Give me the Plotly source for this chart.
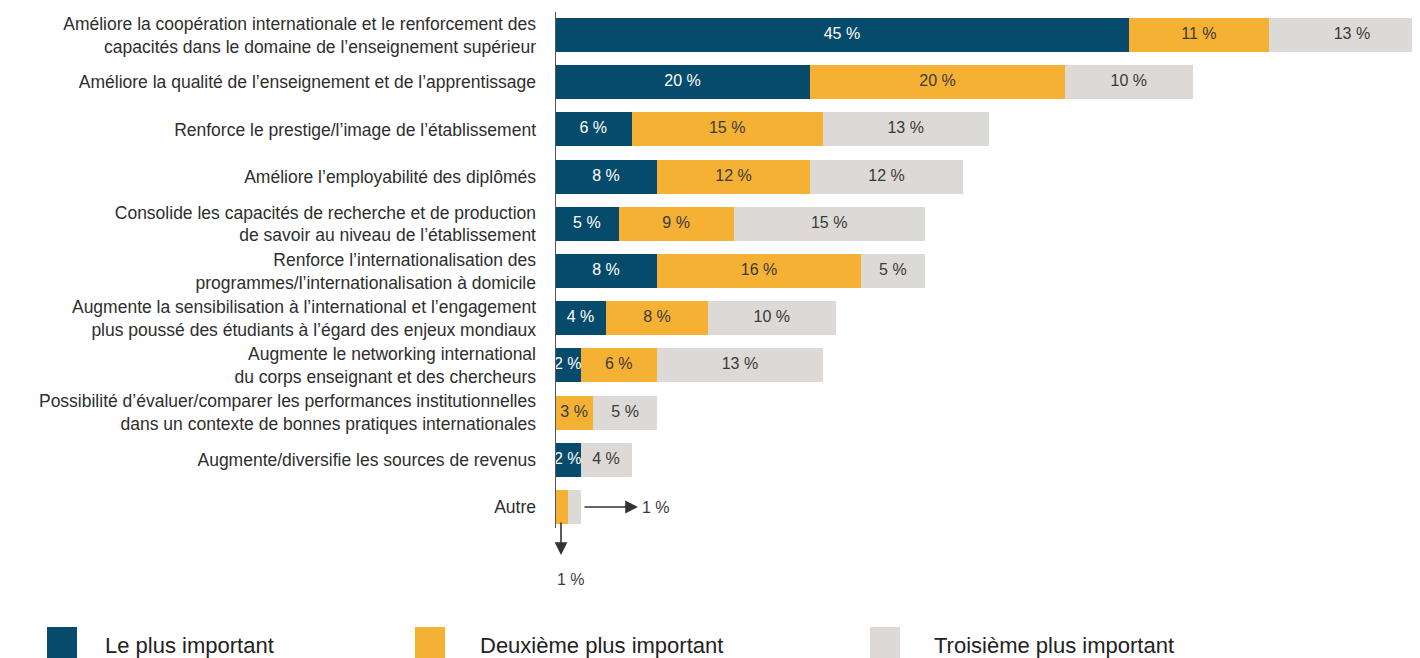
import plotly.graph_objects as go

categories = [
    "Améliore la coopération internationale et le renforcement des<br>capacités dans le domaine de l’enseignement supérieur",
    "Améliore la qualité de l’enseignement et de l’apprentissage",
    "Renforce le prestige/l’image de l’établissement",
    "Améliore l’employabilité des diplômés",
    "Consolide les capacités de recherche et de production<br>de savoir au niveau de l’établissement",
    "Renforce l’internationalisation des<br>programmes/l’internationalisation à domicile",
    "Augmente la sensibilisation à l’international et l’engagement<br>plus poussé des étudiants à l’égard des enjeux mondiaux",
    "Augmente le networking international<br>du corps enseignant et des chercheurs",
    "Possibilité d’évaluer/comparer les performances institutionnelles<br>dans un contexte de bonnes pratiques internationales",
    "Augmente/diversifie les sources de revenus",
    "Autre",
]
first = [45, 20, 6, 8, 5, 8, 4, 2, 0, 2, 0]
second = [11, 20, 15, 12, 9, 16, 8, 6, 3, 0, 1]
third = [13, 10, 13, 12, 15, 5, 10, 13, 5, 4, 1]
autre_axis_label = "1 %"
series_names = ["Le plus important", "Deuxième plus important", "Troisième plus important"]
colors = ["#074b6c", "#f5b133", "#dcd9d6"]
text_colors = ["#ffffff", "#3a3a3a", "#3a3a3a"]

OFF = 8  # default page body margin
W, H = 1420 - OFF, 658 - OFF
LEFT = 555 - OFF
PX_PER_PCT = 12.75
ROW_PX = 47.2
ROW0_PX = 35 - OFF
y_top = -ROW0_PX / ROW_PX
y_bottom = y_top + H / ROW_PX
x_max = (W - LEFT) / PX_PER_PCT

def yv(px):  # screen px -> y data value
    return y_top + (px - OFF) / ROW_PX

def xv(px):  # screen px -> x data value
    return (px - OFF - LEFT) / PX_PER_PCT

def px_paper(px):
    return (px - OFF - LEFT) / (W - LEFT)

def py_paper(py):
    return 1 - (py - OFF) / H

FONT = "Liberation Sans, Arial, sans-serif"
ypos = list(range(len(categories)))

fig = go.Figure()
values = [first, second, third]
cum = [0] * len(categories)
for s, vals in enumerate(values):
    fig.add_trace(go.Bar(
        y=ypos, x=vals, base=cum[:], orientation="h",
        marker=dict(color=colors[s], line=dict(width=0)),
        width=0.72, name=series_names[s], showlegend=False, hoverinfo="skip",
    ))
    tx, ty, tt = [], [], []
    for i, v in enumerate(vals):
        if v > 0 and categories[i] != "Autre":
            tx.append(cum[i] + v / 2)
            ty.append(i)
            tt.append(f"{v} %")
    fig.add_trace(go.Scatter(
        x=tx, y=ty, text=tt, mode="text", showlegend=False, hoverinfo="skip",
        textfont=dict(family=FONT, size=16, color=text_colors[s]),
        cliponaxis=False,
    ))
    cum = [c + v for c, v in zip(cum, vals)]

# axis line
fig.add_shape(type="line", x0=0, x1=0, y0=yv(12), y1=yv(528),
              line=dict(color="#555555", width=2), xref="x", yref="y")

# arrows for "Autre"
autre = categories.index("Autre")
fig.add_annotation(x=xv(561), y=yv(555), ax=xv(561), ay=yv(521), axref="x", ayref="y",
                   xref="x", yref="y", text="", showarrow=True, arrowhead=2,
                   arrowsize=1.6, arrowwidth=1.6, arrowcolor="#333333")
fig.add_annotation(x=xv(571), y=yv(579), text=autre_axis_label,
                   showarrow=False, font=dict(family=FONT, size=16, color="#3a3a3a"))
fig.add_annotation(x=xv(638), y=autre, ax=xv(583), ay=autre, axref="x", ayref="y",
                   xref="x", yref="y", text="", showarrow=True, arrowhead=2,
                   arrowsize=1.6, arrowwidth=1.6, arrowcolor="#333333")
fig.add_annotation(x=xv(656), y=autre, text=f"{third[autre]} %", showarrow=False,
                   font=dict(family=FONT, size=16, color="#3a3a3a"))

# legend
leg = [(47, 103), (415, 478), (870, 932)]
for s, (sx, tx0) in enumerate(leg):
    fig.add_shape(type="rect", xref="paper", yref="paper",
                  x0=px_paper(sx), x1=px_paper(sx + 30),
                  y0=py_paper(660), y1=py_paper(627),
                  fillcolor=colors[s], line=dict(width=0))
    fig.add_annotation(xref="paper", yref="paper", x=px_paper(tx0), y=py_paper(645),
                       xanchor="left", yanchor="middle", text=series_names[s],
                       showarrow=False, font=dict(family=FONT, size=22, color="#222222"))

fig.update_layout(
    width=W, height=H,
    margin=dict(l=LEFT, r=0, t=0, b=0),
    plot_bgcolor="white", paper_bgcolor="white",
    barmode="overlay", bargap=0,
    xaxis=dict(range=[0, x_max], showgrid=False, zeroline=False, showticklabels=False,
               showline=False, fixedrange=True),
    yaxis=dict(range=[y_bottom, y_top], tickvals=ypos, ticktext=categories,
               showgrid=False, zeroline=False, showline=False, ticks="",
               ticklabelstandoff=18,
               tickfont=dict(family=FONT, size=17.5, color="#2e2e2e"), fixedrange=True),
    font=dict(family=FONT),
)

fig.write_html("out.html")
